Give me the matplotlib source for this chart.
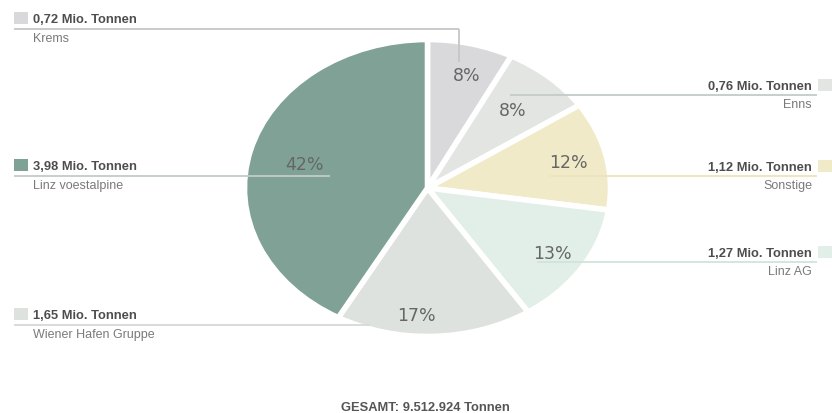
import matplotlib
matplotlib.use("Agg")
import numpy as np
import matplotlib.pyplot as plt
from matplotlib.patches import Rectangle

# ---- data ----
names = ["Krems", "Enns", "Sonstige", "Linz AG", "Wiener Hafen Gruppe", "Linz voestalpine"]
values = [0.72, 0.76, 1.12, 1.27, 1.65, 3.98]          # Mio. Tonnen
value_labels = ["0,72 Mio. Tonnen", "0,76 Mio. Tonnen", "1,12 Mio. Tonnen",
                "1,27 Mio. Tonnen", "1,65 Mio. Tonnen", "3,98 Mio. Tonnen"]
total_label = "GESAMT: 9.512.924 Tonnen"

colors = ["#d9d9db", "#e3e5e3", "#f0eac8", "#e1efe8", "#dde2de", "#80a296"]
line_colors = ["#c6c6c6", "#c3cbc8", "#ede3bd", "#d1e4da", "#d6dad7", "#c3cbc8"]
pct_dist = [0.79, 0.70, 0.79, 0.81, 0.86, 0.69]
pct_shift = [-2.0, 0, 0, 0, -6.0, 1.0]   # degrees

W, H = 832, 414
fig = plt.figure(figsize=(W / 100, H / 100), dpi=100)
fig.patch.set_facecolor("white")

# pie axes (elliptical pie via non-equal aspect)
cx, cy, rx, ry = 427.5, 189.0, 183.0, 148.5
pax = fig.add_axes([(cx - rx) / W, (H - (cy + ry)) / H, 2 * rx / W, 2 * ry / H])
wedges, texts, autotexts = pax.pie(
    values, colors=colors, startangle=90, counterclock=False,
    autopct="%.0f%%", pctdistance=0.78,
    wedgeprops=dict(edgecolor="white", linewidth=4),
    textprops=dict(color="#666666", fontsize=12.5, family="DejaVu Sans"),
)
for w, t, d, s in zip(wedges, autotexts, pct_dist, pct_shift):
    ang = np.deg2rad((w.theta1 + w.theta2) / 2 + s)
    t.set_position((d * np.cos(ang), d * np.sin(ang)))
pax.set_aspect("auto")
pax.set_xlim(-1, 1)
pax.set_ylim(-1, 1)
pax.axis("off")

# overlay axes in pixel coordinates
ox = fig.add_axes([0, 0, 1, 1], zorder=5)
ox.set_xlim(0, W)
ox.set_ylim(H, 0)
ox.axis("off")
ox.patch.set_alpha(0)

bold_kw = dict(fontsize=9.3, fontweight="bold", color="#4d4d4d", family="Liberation Sans", va="center")
sub_kw = dict(fontsize=9.0, color="#7a7a7a", family="Liberation Sans", va="center")

# left side entries: (index, line_y, line end x, vertical end y or None)
left = [(0, 30, 459, 63), (5, 177, 330, None), (4, 326, 370, None)]
for i, ly, ex, vy in left:
    c = line_colors[i]
    ox.plot([14, ex], [ly, ly], color=c, lw=1.3, solid_capstyle="butt")
    if vy is not None:
        ox.plot([ex, ex], [ly, vy], color=c, lw=1.3, solid_capstyle="butt")
    ox.add_patch(Rectangle((14, ly - 17), 14, 12, facecolor=colors[i], edgecolor="none"))
    ox.text(33, ly - 10, value_labels[i], ha="left", **bold_kw)
    ox.text(33, ly + 9.5, names[i], ha="left", **sub_kw)

# right side entries
right = [(1, 96, 510), (2, 177, 550), (3, 263, 537)]
for i, ly, sx in right:
    c = line_colors[i]
    ox.plot([sx, 817], [ly, ly], color=c, lw=1.3, solid_capstyle="butt")
    ox.add_patch(Rectangle((818, ly - 16), 14, 12, facecolor=colors[i], edgecolor="none"))
    ox.text(812, ly - 9, value_labels[i], ha="right", **bold_kw)
    ox.text(812, ly + 9, names[i], ha="right", **sub_kw)

ox.text(425, 408, total_label, ha="center", fontsize=9.3, fontweight="bold",
        color="#555555", family="Liberation Sans", va="center")

fig.savefig("out.png", dpi=100, facecolor="white")
